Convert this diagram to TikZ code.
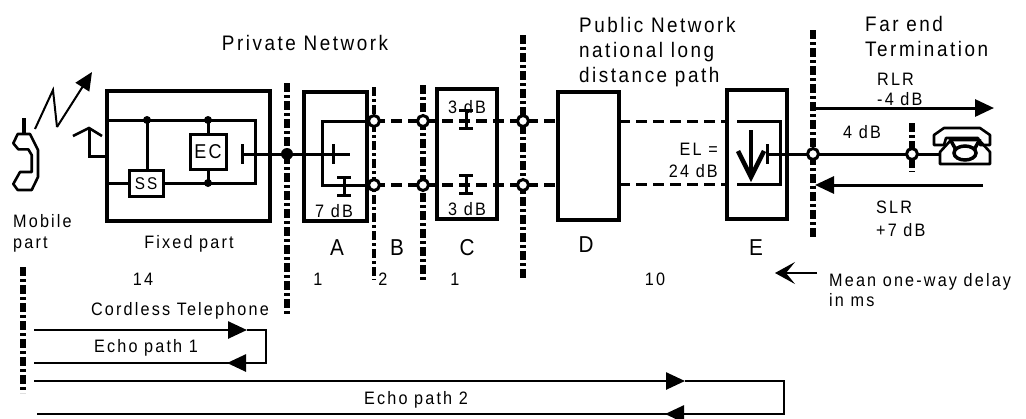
\documentclass[tikz,border=0pt]{standalone}
\usepackage{fontspec}
\setmainfont{Liberation Sans}[FakeStretch=0.9,LetterSpace=12]
\usetikzlibrary{arrows.meta}
\begin{document}
\begin{tikzpicture}[x=1pt,y=-1pt,
  box/.style={draw,line width=3.6pt,inner sep=0pt},
  smallbox/.style={draw,line width=3pt,fill=white,inner sep=0pt},
  wire/.style={line width=3pt},
  ddot/.style={line width=5.5pt,dash pattern=on 9pt off 3pt on 3pt off 3pt},
  ddthin/.style={line width=3.2pt,dash pattern=on 9pt off 3pt on 3pt off 3pt},
  dsh/.style={line width=3.6pt,dash pattern=on 11pt off 6pt},
  ring/.style={circle,draw,line width=3pt,fill=white,minimum size=11pt,inner sep=0pt},
  jdot/.style={circle,fill=black,minimum size=12pt,inner sep=0pt},
  sdot/.style={circle,fill=black,minimum size=8pt,inner sep=0pt},
  lbl/.style={inner sep=0pt,font=\fontsize{18}{21}\selectfont},
  hdr/.style={inner sep=0pt,font=\fontsize{21}{24}\selectfont},
  big/.style={inner sep=0pt,font=\fontsize{23}{26}\selectfont},
  echo/.style={line width=2.6pt},
  tri/.style={-{Triangle[length=19pt,width=17pt]}},
  attn/.pic={\draw[line width=3pt] (0,-9)--(0,9) (-7,-9)--(7,-9) (-7,9)--(7,9);},
]
\useasboundingbox (0,0) rectangle (1026,418);

% ---------- boxes ----------
\node[box,minimum width=163pt,minimum height=130pt] (fp) at (188.5,156) {};
\node[box,minimum width=63pt,minimum height=129pt] (bA) at (335.5,156.5) {};
\node[box,minimum width=60pt,minimum height=130pt] (bC) at (467,154) {};
\node[box,minimum width=61pt,minimum height=128pt] (bD) at (588.5,156) {};
\node[box,minimum width=60pt,minimum height=129pt] (bE) at (757,154.5) {};

% ---------- dash-dot boundaries ----------
\coordinate (v0t) at (23,267);  \coordinate (v0b) at (23,393);
\coordinate (v1t) at (287,83);  \coordinate (v1b) at (287,315);
\coordinate (v2t) at (374,87);  \coordinate (v2b) at (374,280);
\coordinate (v3t) at (423,85);  \coordinate (v3b) at (423,280);
\coordinate (v4t) at (523,35);  \coordinate (v4b) at (523,280);
\coordinate (v5t) at (813,30);  \coordinate (v5b) at (813,238);
\coordinate (v6t) at (912,123); \coordinate (v6b) at (912,172);
\draw[ddot] (v0t) -- (v0b);
\draw[ddot] (v1t) -- (v1b);
\draw[ddthin] (v2t) -- (v2b);
\draw[ddot] (v3t) -- (v3b);
\draw[ddot] (v4t) -- (v4b);
\draw[ddot] (v5t) -- (v5b);
\draw[ddot] (v6t) -- (v6b);

% ---------- fixed part internals ----------
\coordinate (w1L) at (107,120); \coordinate (w1R) at (255,120);
\coordinate (w2L) at (107,183); \coordinate (w2R) at (255,183);
\coordinate (d1) at (147,120); \coordinate (d2) at (208,120); \coordinate (d3) at (208,183);
\draw[wire] (w1L) -- (w1R) -- (w2R) -- (w2L);
\node[smallbox,minimum width=34pt,minimum height=26pt,font=\fontsize{17}{20}\selectfont] (ss) at (146,183.5) {SS};
\node[smallbox,minimum width=36pt,minimum height=35pt,font=\fontsize{20}{22}\selectfont] (ec) at (208,151.5) {EC};
\draw[wire] (d1) -- (d1 |- ss.north);
\draw[wire] (d2) -- (ec.north);
\draw[wire] (ec.south) -- (d3);
\node[sdot] (dd1) at (d1) {};
\node[sdot] (dd2) at (d2) {};
\node[sdot] (dd3) at (d3) {};
\coordinate (b1t) at (242,144); \coordinate (b1b) at (242,164);
\draw[wire] (b1t) -- (b1b);
\coordinate (b1) at (242,154);
\coordinate (aEnd) at (350,154);
\draw[wire] (b1) -- (aEnd);
\node[jdot] (j0) at (287,154) {};

% antenna on fixed part
\coordinate (h1) at (73,136); \coordinate (h2) at (89,128); \coordinate (h3) at (102,136);
\coordinate (h4) at (89,156); \coordinate (h5) at (107,156);
\draw[line width=2.6pt] (h1) -- (h2) -- (h3);
\draw[wire] (h2) -- (h4) -- (h5);

% ---------- box A internals ----------
\coordinate (a1t) at (333,144); \coordinate (a1b) at (333,164);
\draw[wire] (a1t) -- (a1b);
\coordinate (pB1) at (374,121); \coordinate (pB2) at (374,185);
\coordinate (la) at (322,121); \coordinate (lb) at (322,185);
\draw[wire] (pB1) -- (la) -- (lb) -- (pB2);
\pic at (344,186.5) {attn};

% ---------- dashed trunk ----------
\coordinate (dD1) at (558,121); \coordinate (dD2) at (558,185);
\draw[dsh] (pB1) -- (dD1);
\draw[dsh] (pB2) -- (dD2);
\pic at (466,119.5) {attn};
\pic at (466,184) {attn};
\coordinate (dE1a) at (619,121.5); \coordinate (dE1b) at (727,121.5);
\coordinate (dE2a) at (619,184.5); \coordinate (dE2b) at (727,184.5);
\draw[dsh] (dE1a) -- (dE1b);
\draw[dsh] (dE2a) -- (dE2b);

\node[ring] (r1) at (374,121) {};
\node[ring] (r2) at (374,185) {};
\node[ring] (r3) at (423,121) {};
\node[ring] (r4) at (423,185) {};
\node[ring] (r5) at (523,121) {};
\node[ring] (r6) at (523,185) {};

% ---------- box E internals ----------
\coordinate (e1) at (737,121.5); \coordinate (e2) at (780,121.5);
\coordinate (e3) at (780,184.5); \coordinate (e4) at (737,184.5);
\draw[wire] (e1) -- (e2) -- (e3) -- (e4);
\coordinate (ar1) at (751,130); \coordinate (ar2) at (751,172);
\draw[line width=3.5pt] (ar1) -- (ar2);
\coordinate (ch1) at (738,151); \coordinate (ch2) at (751,177); \coordinate (ch3) at (764,151);
\draw[line width=4.5pt,line join=miter] (ch1) -- (ch2) -- (ch3);
\coordinate (eb1) at (767,144); \coordinate (eb2) at (767,164);
\draw[wire] (eb1) -- (eb2);
\coordinate (eb) at (767,154);
\coordinate (ph) at (940,154);
\draw[wire] (eb) -- (ph);
\node[ring] (r7) at (813,154) {};
\node[ring] (r8) at (912,154) {};

% ---------- far end arrows ----------
\coordinate (rl1) at (815,108); \coordinate (rl2) at (994,108);
\draw[wire,tri] (rl1) -- (rl2);
\coordinate (sl1) at (983,185); \coordinate (sl2) at (815,185);
\draw[wire,tri] (sl1) -- (sl2);

% ---------- telephone ----------
\draw[line width=2.6pt,line join=round] (934,135) -- (944,128) -- (980,128) -- (990,135) -- (990,145) -- (980,145) -- (978,138) -- (946,138) -- (944,145) -- (934,145) -- cycle;
\draw[line width=2.6pt,line join=round] (940,164) -- (990,164) -- (990,152) -- (979,140) -- (951,140) -- (940,152) -- cycle;
\draw[line width=3.5pt] (965,153) ellipse [x radius=11, y radius=7];
\draw[line width=3.5pt] (950,139) -- (956,150);
\draw[line width=3.5pt] (980,139) -- (974,150);

% ---------- mobile part ----------
\draw[line width=2.6pt,line join=round] (17.7,134) -- (30,134) -- (38,150) -- (38,177) -- (31.7,190) -- (17.7,190) -- (13.3,184) -- (20,172) -- (31.7,172) -- (31.7,155) -- (28.3,149.3) -- (18.3,149.3) -- (13.3,143.3) -- cycle;
\coordinate (mant1) at (24,118); \coordinate (mant2) at (24,134);
\draw[line width=3.5pt] (mant1) -- (mant2);
\coordinate (z1) at (35,129); \coordinate (z2) at (53,90); \coordinate (z3) at (57,127); \coordinate (z4) at (92,72);
\draw[line width=2pt] (z1) -- (z2) -- (z3);
\draw[line width=2pt,-{Triangle[length=18pt,width=16pt]}] (z3) -- (z4);

% ---------- echo paths ----------
\coordinate (p1a) at (34,330); \coordinate (p1m) at (247,330); \coordinate (p1r) at (266,330);
\coordinate (p1s) at (266,363); \coordinate (p1n) at (227,363); \coordinate (p1e) at (34,363);
\draw[echo,tri] (p1a) -- (p1m);
\draw[echo] (p1m) -- (p1r) -- (p1s) -- (p1n);
\draw[echo,tri] (p1s) -- (p1n);
\draw[echo] (p1n) -- (p1e);
\coordinate (p2a) at (34,381); \coordinate (p2m) at (685,381); \coordinate (p2r) at (784,381);
\coordinate (p2s) at (784,414); \coordinate (p2n) at (665,414); \coordinate (p2e) at (37,414);
\draw[echo,tri] (p2a) -- (p2m);
\draw[echo] (p2m) -- (p2r) -- (p2s) -- (p2n);
\draw[echo,tri] (p2s) -- (p2n);
\draw[echo] (p2n) -- (p2e);

% ---------- mean delay arrow ----------
\coordinate (mA) at (817,273); \coordinate (mB) at (775,273);
\draw[line width=1.3pt,-{Stealth[length=20pt,width=22pt,inset=9pt]}] (mA) -- (mB);

% ---------- texts ----------
\node[hdr,anchor=base] (tPriv) at (305,50) {Private Network};
\node[hdr,anchor=base west] (tPub1) at (579,32) {Public Network};
\node[hdr,anchor=base west] (tPub2) at (579,57) {national long};
\node[hdr,anchor=base west] (tPub3) at (579,82) {distance path};
\node[hdr,anchor=base west] (tFar1) at (865,31) {Far end};
\node[hdr,anchor=base west] (tFar2) at (865,56) {Termination};
\node[lbl,anchor=base west] (tRLR) at (877,85) {RLR};
\node[lbl,anchor=base west] (tRLR2) at (877,105) {-4 dB};
\node[lbl,anchor=base west] (t4dB) at (843,138) {4 dB};
\node[lbl,anchor=base east] (tEL1) at (718,155) {EL =};
\node[lbl,anchor=base east] (tEL2) at (718,177) {24 dB};
\node[lbl,anchor=base west] (tSLR) at (876,213) {SLR};
\node[lbl,anchor=base west] (tSLR2) at (876,236) {+7 dB};
\node[big,anchor=base] (tA) at (337,255) {A};
\node[big,anchor=base] (tB) at (397,255) {B};
\node[big,anchor=base] (tC) at (467,255) {C};
\node[big,anchor=base] (tD) at (586,252) {D};
\node[big,anchor=base] (tE) at (756,255) {E};
\node[lbl,anchor=base] (n14) at (143,285) {14};
\node[lbl,anchor=base] (n1a) at (318,285) {1};
\node[lbl,anchor=base] (n2) at (383,285) {2};
\node[lbl,anchor=base] (n1b) at (455,285) {1};
\node[lbl,anchor=base] (n10) at (655,285) {10};
\node[lbl,anchor=base west] (tMean) at (829,286) {Mean one-way delay};
\node[lbl,anchor=base west] (tMs) at (829,306) {in ms};
\node[lbl,anchor=base west] (tMob1) at (13,227) {Mobile};
\node[lbl,anchor=base west] (tMob2) at (13,248) {part};
\node[lbl,anchor=base] (tFix) at (189,248) {Fixed part};
\node[lbl,anchor=base] (tCord) at (180,315) {Cordless Telephone};
\node[lbl,anchor=base] (tEcho1) at (146,352) {Echo path 1};
\node[lbl,anchor=base] (tEcho2) at (416,404) {Echo path 2};
\node[lbl,anchor=base] (t7) at (334,217) {7 dB};
\node[lbl,anchor=base] (t3a) at (467,113) {3 dB};
\node[lbl,anchor=base] (t3b) at (467,215) {3 dB};
\end{tikzpicture}
\end{document}
